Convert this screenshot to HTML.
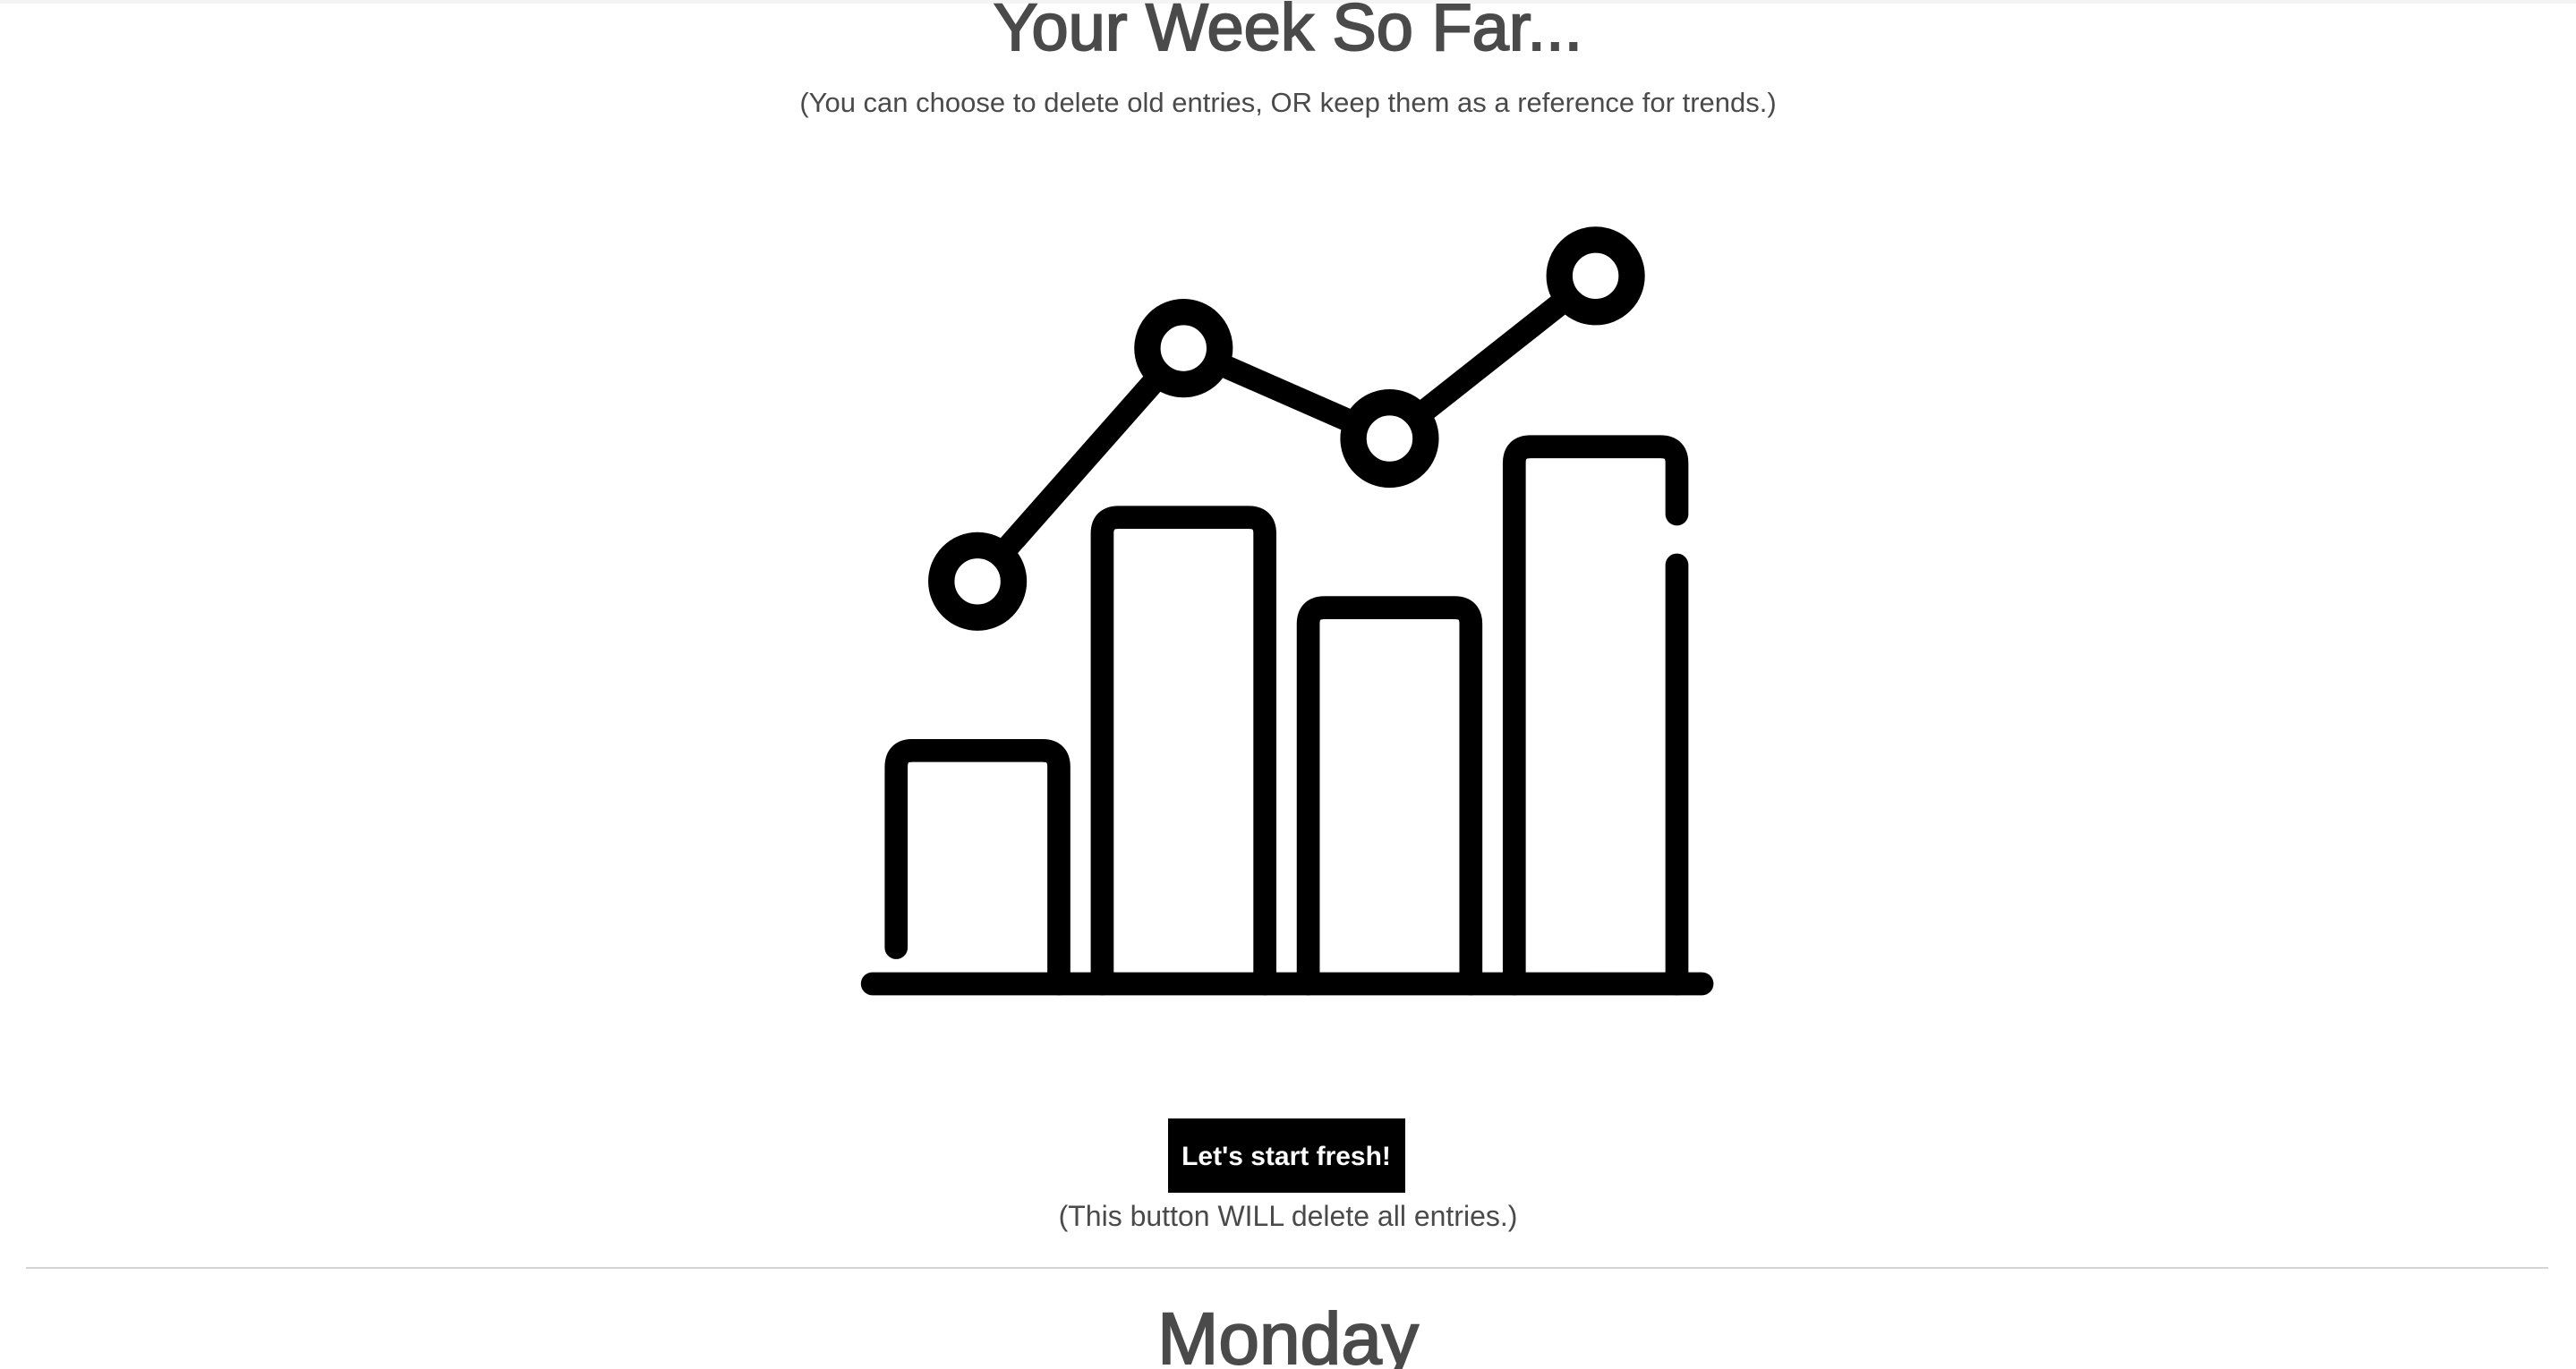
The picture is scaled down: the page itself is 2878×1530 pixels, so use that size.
<!DOCTYPE html>
<html><head><meta charset="utf-8"><style>
html,body{margin:0;padding:0;background:#fff;width:2878px;height:1530px;overflow:hidden}
svg{display:block}
text{font-family:"Liberation Sans",sans-serif}
</style></head><body>
<svg width="2878" height="1530" viewBox="0 0 2878 1530">
<rect x="0" y="0" width="2878" height="4" fill="#f4f4f4"/>
<text x="1439" y="56" text-anchor="middle" font-size="74" fill="#4a4a4a" stroke="#4a4a4a" stroke-width="2">Your Week So Far...</text>
<text x="1439" y="125" text-anchor="middle" font-size="31" fill="#4a4a4a">(You can choose to delete old entries, OR keep them as a reference for trends.)</text>
<g id="chart" transform="scale(1.8355)"></g>
<rect x="1305" y="1250" width="265" height="83" fill="#000"/>
<text x="1437" y="1302" text-anchor="middle" font-size="30" font-weight="bold" fill="#fff">Let's start fresh!</text>
<text x="1439" y="1370" text-anchor="middle" font-size="32" fill="#4a4a4a">(This button WILL delete all entries.)</text>
<rect x="29" y="1416" width="2818" height="2" fill="#d4d4d4"/>
<text x="1439" y="1524" text-anchor="middle" font-size="82" fill="#4a4a4a" stroke="#4a4a4a" stroke-width="2">Monday</text>
</svg>
<script>
const categories = ['w1','w2','w3','w4'];
const barHeights = [149, 291, 236, 334];
const pointHeights = [245, 387, 332, 431];
const NS = 'http://www.w3.org/2000/svg';
const g = document.getElementById('chart');
const base = 599, sw = 14;
const xCenter = i => 595 + i * 125.4;
const yOf = v => base - v;
const halfW = 56.5;
function mk(tag, attrs){const e=document.createElementNS(NS,tag);for(const k in attrs)e.setAttribute(k,attrs[k]);g.appendChild(e);return e;}
barHeights.forEach((v,i)=>{
  const cx=xCenter(i), L=cx-halfW+sw/2, R=cx+halfW-sw/2, T=yOf(v)+sw/2, r=10;
  let d;
  if(i===0){
    d=`M${L},577 L${L},${T+r} Q${L},${T} ${L+r},${T} L${R-r},${T} Q${R},${T} ${R},${T+r} L${R},${base}`;
  } else if(i===barHeights.length-1){
    d=`M${L},${base} L${L},${T+r} Q${L},${T} ${L+r},${T} L${R-r},${T} Q${R},${T} ${R},${T+r} L${R},313 M${R},344 L${R},${base}`;
  } else {
    d=`M${L},${base} L${L},${T+r} Q${L},${T} ${L+r},${T} L${R-r},${T} Q${R},${T} ${R},${T+r} L${R},${base}`;
  }
  const p=mk('path',{d:d,fill:'none',stroke:'#000','stroke-width':sw,'stroke-linecap':'round','stroke-linejoin':'round'});
  
  
});
const bl=mk('line',{x1:531,y1:base,x2:1036,y2:base,stroke:'#000','stroke-width':sw,'stroke-linecap':'round'});


const pts = pointHeights.map((v,i)=>[xCenter(i), yOf(v)]);
const rr = 22;
for(let i=0;i<pts.length-1;i++){
  const [x1,y1]=pts[i],[x2,y2]=pts[i+1];
  const dx=x2-x1, dy=y2-y1, L=Math.hypot(dx,dy);
  const ln=mk('line',{x1:x1+dx/L*rr,y1:y1+dy/L*rr,x2:x2-dx/L*rr,y2:y2-dy/L*rr,stroke:'#000','stroke-width':sw});
  
  
}
pts.forEach((p,i)=>{
  const c=mk('circle',{cx:p[0],cy:p[1],r:rr,fill:'none',stroke:'#000','stroke-width':16});
  
  
});
</script>
</body></html>
